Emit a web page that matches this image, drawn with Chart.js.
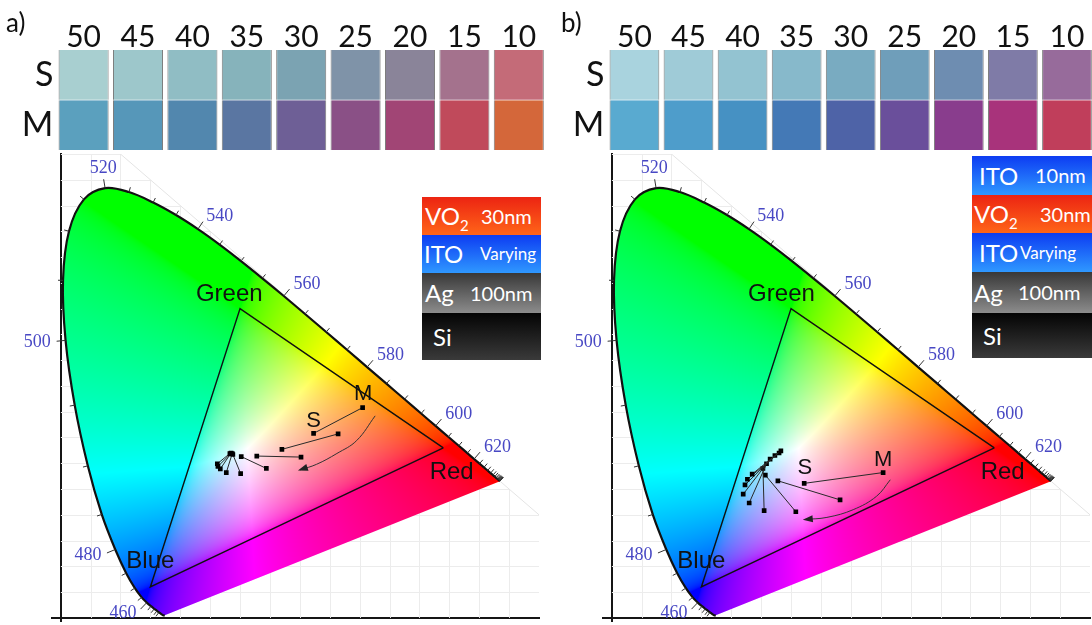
<!DOCTYPE html>
<html><head><meta charset="utf-8">
<script src="https://cdn.jsdelivr.net/npm/chart.js@4.4.1/dist/chart.umd.min.js"></script>
<style>
html,body{margin:0;padding:0;background:#fff;width:1092px;height:625px;overflow:hidden;position:relative;}
.abs{position:absolute;}
canvas{display:block;}
.plabel{position:absolute;font-family:Lato,'Open Sans',sans-serif;font-size:26px;color:#111;line-height:1;}
.row{position:relative;color:#fff;font-family:Lato,'Open Sans',sans-serif;white-space:nowrap;overflow:hidden;}
.row .n{position:absolute;font-size:24px;top:0;}
.row .n sub{font-size:15px;vertical-align:-6px;line-height:0;}
.row .t{position:absolute;font-size:20px;top:0;}
</style></head>
<body>
<div class="abs" style="left:0;top:0;width:546px;height:152px"><canvas id="swA" width="546" height="152"></canvas></div>
<div class="abs" style="left:551px;top:0;width:543px;height:152px"><canvas id="swB" width="543" height="152"></canvas></div>
<div class="abs" style="left:0;top:150px;width:546px;height:475px"><canvas id="cieA" width="546" height="475"></canvas></div>
<div class="abs" style="left:551px;top:150px;width:543px;height:475px"><canvas id="cieB" width="543" height="475"></canvas></div>
<div class="plabel" style="left:6px;top:9px">a)</div>
<div class="plabel" style="left:561px;top:9px">b)</div>
<div id="stackA" class="abs" style="left:422px;top:197px;width:119px"></div>
<div id="stackB" class="abs" style="left:972px;top:156px;width:124px"></div>
<script>
// ---------- data ----------
const thickness = ['50','45','40','35','30','25','20','15','10'];
const rowLabels = ['M','S'];
const swatchValue = [1,1,1,1,1,1,1,1,1];

const aSwatchS = ['#a8cfd0','#9dc7cb','#90bdc4','#86b3bb','#7ba3b2','#7f93a8','#8a8499','#a4728d','#c46b78'];
const aSwatchM = ['#5ba0be','#5697b9','#5287ae','#5a76a2','#6e5f96','#8a5086','#a14575','#c04a5b','#d4673a'];
const bSwatchS = ['#a9d3de','#9fcbd7','#93c3d1','#87b9cb','#79abc1','#6f9eba','#6e8db1','#7f7ba7','#976b9b'];
const bSwatchM = ['#59aad0','#4e9dcb','#4691c3','#4479b6','#4e63a7','#6a4f9b','#893d8d','#a8337b','#c03e5b'];

// chromaticity of S and M states, thickness 50 -> 10 nm
const aSx = [0.283,0.284,0.285,0.287,0.288,0.302,0.328,0.370,0.423];
const aSy = [0.319,0.318,0.320,0.319,0.317,0.313,0.314,0.327,0.358];
const aMx = [0.262,0.263,0.267,0.277,0.301,0.344,0.402,0.464,0.505];
const aMy = [0.299,0.294,0.289,0.282,0.280,0.290,0.312,0.357,0.408];
const bSx = [0.283,0.280,0.273,0.265,0.259,0.253,0.257,0.278,0.322];
const bSy = [0.324,0.320,0.315,0.308,0.299,0.290,0.277,0.266,0.261];
const bMx = [0.235,0.227,0.223,0.220,0.230,0.255,0.308,0.382,0.454];
const bMy = [0.279,0.269,0.258,0.240,0.223,0.208,0.206,0.229,0.282];

// direction arrows
const aArrowX = [0.526,0.495,0.462,0.428,0.400];
const aArrowY = [0.392,0.344,0.319,0.298,0.287];
const bArrowX = [0.466,0.443,0.404,0.360,0.323];
const bArrowY = [0.268,0.236,0.210,0.195,0.191];

// CIE 1931 spectral locus, 5 nm steps
const locusNm = [380,385,390,395,400,405,410,415,420,425,430,435,440,445,450,455,460,465,470,475,480,485,490,495,500,505,510,515,520,525,530,535,540,545,550,555,560,565,570,575,580,585,590,595,600,605,610,615,620,625,630,635,640,645,650,655,660,665,670,675,680,685,690,695,700];
const locusX = [0.1741,0.1740,0.1738,0.1736,0.1733,0.1730,0.1726,0.1721,0.1714,0.1703,0.1689,0.1669,0.1644,0.1611,0.1566,0.1510,0.1440,0.1355,0.1241,0.1096,0.0913,0.0687,0.0454,0.0235,0.0082,0.0039,0.0139,0.0389,0.0743,0.1142,0.1547,0.1929,0.2296,0.2658,0.3016,0.3373,0.3731,0.4087,0.4441,0.4788,0.5125,0.5448,0.5752,0.6029,0.6270,0.6482,0.6658,0.6801,0.6915,0.7006,0.7079,0.7140,0.7190,0.7230,0.7260,0.7283,0.7300,0.7311,0.7320,0.7327,0.7334,0.7340,0.7344,0.7346,0.7347];
const locusY = [0.0050,0.0050,0.0049,0.0049,0.0048,0.0048,0.0048,0.0048,0.0051,0.0058,0.0069,0.0086,0.0109,0.0138,0.0177,0.0227,0.0297,0.0399,0.0578,0.0868,0.1327,0.2007,0.2950,0.4127,0.5384,0.6548,0.7502,0.8120,0.8338,0.8262,0.8059,0.7816,0.7543,0.7243,0.6923,0.6589,0.6245,0.5896,0.5547,0.5202,0.4866,0.4544,0.4242,0.3965,0.3725,0.3514,0.3340,0.3197,0.3083,0.2993,0.2920,0.2859,0.2809,0.2770,0.2740,0.2717,0.2700,0.2689,0.2680,0.2673,0.2666,0.2660,0.2656,0.2654,0.2653];
const labeledNm = [460,480,500,520,540,560,580,600,620];

// sRGB primaries triangle (R, G, B, R)
const primX = [0.64,0.30,0.15,0.64];
const primY = [0.33,0.60,0.06,0.33];

const aMarks = [
  {text:'Green', x:0.282, y:0.630, size:24},
  {text:'Red',   x:0.654, y:0.284, size:24},
  {text:'Blue',  x:0.150, y:0.1125, size:24},
  {text:'S',     x:0.423, y:0.385, size:22},
  {text:'M',     x:0.506, y:0.437, size:22}
];
const bMarks = [
  {text:'Green', x:0.284, y:0.630, size:24},
  {text:'Red',   x:0.654, y:0.284, size:24},
  {text:'Blue',  x:0.150, y:0.1125, size:24},
  {text:'S',     x:0.323, y:0.293, size:22},
  {text:'M',     x:0.454, y:0.309, size:22}
];

const stackA = [
  {name:'VO<sub>2</sub>', thick:'30nm', kind:'vo2', h:38, nl:3, tl:59},
  {name:'ITO', thick:'Varying', kind:'ito', h:38, nl:2, tl:58},
  {name:'Ag', thick:'100nm', kind:'ag', h:40, nl:3, tl:48},
  {name:'Si', thick:'', kind:'si', h:47, nl:11, tl:0}
];
const stackB = [
  {name:'ITO', thick:'10nm', kind:'ito', h:39, nl:7, tl:63},
  {name:'VO<sub>2</sub>', thick:'30nm', kind:'vo2', h:38, nl:2, tl:68},
  {name:'ITO', thick:'Varying', kind:'ito', h:39, nl:7, tl:48},
  {name:'Ag', thick:'100nm', kind:'ag', h:41, nl:2, tl:46},
  {name:'Si', thick:'', kind:'si', h:45, nl:11, tl:0}
];
const layerBg = {
  vo2:'linear-gradient(#ec2412,#ff6519)',
  ito:'linear-gradient(#0d3cf2,#2f98ff)',
  ag:'linear-gradient(#383838,#8c8c8c)',
  si:'linear-gradient(#040404,#3a3a3a)'
};

// ---------- legend stacks ----------
function buildStack(id, rows){
  const el = document.getElementById(id);
  rows.forEach(r=>{
    const d = document.createElement('div');
    d.className='row';
    d.style.height = r.h+'px';
    d.style.lineHeight = r.h+'px';
    d.style.background = layerBg[r.kind];
    d.innerHTML = '<span class="n" style="left:'+r.nl+'px">'+r.name+'</span>'+
      (r.thick ? '<span class="t" style="left:'+r.tl+'px;'+(r.thick==='Varying'?'font-size:17px;':'')+'">'+r.thick+'</span>' : '');
    el.appendChild(d);
  });
}
buildStack('stackA', stackA);
buildStack('stackB', stackB);

// ---------- swatch charts ----------
const rowDivider = {
  id:'rowDivider',
  afterDatasetsDraw(chart){
    const {ctx, chartArea:a, scales:{y}} = chart;
    const yy = Math.round(y.getPixelForValue(1));
    ctx.save(); ctx.fillStyle='rgba(255,255,255,0.55)';
    ctx.fillRect(a.left, yy-0.5, a.width, 1.2); ctx.restore();
  }
};
function makeSwatch(id, sCols, mCols){
  new Chart(document.getElementById(id), {
    type:'bar',
    data:{labels:thickness, datasets:[
      {label:'M', data:swatchValue, backgroundColor:mCols, borderColor:'rgba(70,70,70,0.7)',
       borderWidth:{left:1,right:1,top:0,bottom:0}, borderSkipped:false, stack:'s', barPercentage:0.92, categoryPercentage:1},
      {label:'S', data:swatchValue, backgroundColor:sCols, borderColor:'rgba(70,70,70,0.7)',
       borderWidth:{left:1,right:1,top:0,bottom:0}, borderSkipped:false, stack:'s', barPercentage:0.92, categoryPercentage:1}
    ]},
    plugins:[rowDivider],
    options:{
      responsive:false, animation:false, events:[],
      layout:{padding:{left:0,right:0,top:0,bottom:2}},
      plugins:{legend:{display:false}, tooltip:{enabled:false}},
      scales:{
        x:{position:'top', stacked:true, grid:{display:false, drawTicks:false}, border:{display:false},
           ticks:{font:{family:'Lato', size:30}, color:'#111', padding:-5, maxRotation:0, autoSkip:false},
           afterFit:s=>{s.height=50; s.paddingLeft=0; s.paddingRight=0;}},
        y:{stacked:true, min:0, max:2, grid:{display:false, drawTicks:false}, border:{display:false},
           afterBuildTicks:s=>{s.ticks=[{value:0.5},{value:1.5}];},
           ticks:{font:{family:'Lato', size:34}, color:'#111', padding:3, callback:v=>rowLabels[Math.floor(v)]},
           afterFit:s=>{s.width=56.4; s.paddingTop=0; s.paddingBottom=0;}}
      }
    }
  });
}
makeSwatch('swA', aSwatchS, aSwatchM);
makeSwatch('swB', bSwatchS, bSwatchM);

// ---------- CIE chromaticity charts ----------
function gam(c){ return c<=0.0031308 ? 12.92*c : 1.055*Math.pow(c,1/2.4)-0.055; }
function ciePattern(context){
  const chart = context.chart;
  const area = chart.chartArea;
  if (!area || !chart.scales.x) return 'rgba(0,0,0,0)';
  if (chart.$ciePat) return chart.$ciePat;
  const xs = chart.scales.x, ys = chart.scales.y;
  const W = chart.width, H = chart.height;
  const off = document.createElement('canvas'); off.width=W; off.height=H;
  const octx = off.getContext('2d');
  const img = octx.createImageData(W,H);
  const d = img.data;
  for (let py=Math.max(0,Math.floor(area.top)); py<Math.min(H,Math.ceil(area.bottom)); py++){
    const yv = Math.max(ys.getValueForPixel(py+0.5), 0.001);
    for (let px=Math.max(0,Math.floor(area.left)); px<Math.min(W,Math.ceil(area.right)); px++){
      const xv = xs.getValueForPixel(px+0.5);
      const X = xv/yv, Y = 1, Z = (1-xv-yv)/yv;
      let r = 3.2406*X - 1.5372*Y - 0.4986*Z;
      let g = -0.9689*X + 1.8758*Y + 0.0415*Z;
      let b = 0.0557*X - 0.2040*Y + 1.0570*Z;
      r=Math.max(r,0); g=Math.max(g,0); b=Math.max(b,0);
      let m = Math.max(r,g,b) || 1;
      const s = (m - Math.min(r,g,b))/m;
      g *= 1 + 0.3*s;
      m = Math.max(r,g,b) || 1;
      const k = (py*W+px)*4;
      d[k]=Math.round(255*gam(r/m)); d[k+1]=Math.round(255*gam(g/m)); d[k+2]=Math.round(255*gam(b/m)); d[k+3]=255;
    }
  }
  octx.putImageData(img,0,0);
  chart.$ciePat = chart.ctx.createPattern(off,'no-repeat');
  return chart.$ciePat;
}

const cieGridPlugin = {
  id:'cieGrid',
  beforeDatasetsDraw(chart){
    const {ctx, chartArea:a, scales:{x:xs, y:ys}} = chart;
    const X = v=>xs.getPixelForValue(v), Y = v=>ys.getPixelForValue(v);
    ctx.save();
    ctx.beginPath(); ctx.rect(a.left,a.top,a.width,a.height); ctx.clip();
    ctx.beginPath(); ctx.moveTo(X(0),Y(0)); ctx.lineTo(X(1),Y(0)); ctx.lineTo(X(0),Y(1)); ctx.closePath(); ctx.clip();
    ctx.strokeStyle='#ececec'; ctx.lineWidth=1;
    for (let k=1;k<20;k++){
      const v=k*0.05;
      ctx.beginPath(); ctx.moveTo(Math.round(X(v))+0.5,Y(0)); ctx.lineTo(Math.round(X(v))+0.5,Y(1)); ctx.stroke();
      ctx.beginPath(); ctx.moveTo(X(0),Math.round(Y(v))+0.5); ctx.lineTo(X(1),Math.round(Y(v))+0.5); ctx.stroke();
    }
    ctx.restore();
    ctx.save();
    ctx.beginPath(); ctx.rect(a.left,a.top,a.width,a.height); ctx.clip();
    ctx.strokeStyle='#e4e4e4'; ctx.lineWidth=1;
    ctx.beginPath(); ctx.moveTo(X(0),Y(1)); ctx.lineTo(X(1),Y(0)); ctx.stroke();
    ctx.restore();
  }
};

const locusLabelPlugin = {
  id:'locusLabels',
  afterDatasetsDraw(chart){
    const {ctx, scales:{x:xs, y:ys}} = chart;
    const P = i=>[xs.getPixelForValue(locusX[i]), ys.getPixelForValue(locusY[i])];
    const wx = xs.getPixelForValue(0.3127), wy = ys.getPixelForValue(0.329);
    const n = locusNm.length;
    ctx.save();
    ctx.strokeStyle='#333'; ctx.lineWidth=1;
    ctx.font='18px "Liberation Serif", "DejaVu Serif", serif';
    ctx.fillStyle='#4848c4';
    for (let i=0;i<n;i++){
      const nm = locusNm[i]; if (nm<440) continue;
      const [px,py] = P(i);
      let a=i, b=i;
      const dist=(j)=>{const q=P(j); return Math.hypot(q[0]-px,q[1]-py);};
      while (a>0 && dist(a)<5) a--;
      while (b<n-1 && dist(b)<5) b++;
      const pa=P(a), pb=P(b);
      let tx=pb[0]-pa[0], ty=pb[1]-pa[1]; const L=Math.hypot(tx,ty)||1; tx/=L; ty/=L;
      let nx=ty, ny=-tx;
      if ((px-wx)*nx + (py-wy)*ny < 0){ nx=-nx; ny=-ny; }
      const major = labeledNm.includes(nm);
      const len = major ? 9 : 5;
      ctx.beginPath(); ctx.moveTo(px,py); ctx.lineTo(px+nx*len, py+ny*len); ctx.stroke();
      if (major){
        if (nx>0.35){ ctx.textAlign='left'; ctx.textBaseline='middle'; ctx.fillText(String(nm), px+nx*(len+6), py+ny*(len+6)); }
        else if (nx<-0.35){ ctx.textAlign='right'; ctx.textBaseline='middle'; ctx.fillText(String(nm), px+nx*(len+6), py+ny*(len+6)); }
        else { ctx.textAlign='center'; ctx.textBaseline='bottom'; ctx.fillText(String(nm), px+nx*(len+2), py+ny*(len+2)); }
      }
    }
    ctx.restore();
  }
};

const arrowHeadPlugin = {
  id:'arrowHead',
  afterDatasetsDraw(chart){
    const ctx = chart.ctx;
    chart.data.datasets.forEach((ds,idx)=>{
      if (ds.label!=='arrow') return;
      const pts = chart.getDatasetMeta(idx).data;
      const p = pts[pts.length-1];
      const q = (p.cp1x!==undefined) ? {x:p.cp1x,y:p.cp1y} : pts[pts.length-2];
      let dx=p.x-q.x, dy=p.y-q.y; const L=Math.hypot(dx,dy)||1; dx/=L; dy/=L;
      const len=8, hw=3.5;
      ctx.save(); ctx.fillStyle='#222';
      ctx.beginPath();
      ctx.moveTo(p.x+dx*2, p.y+dy*2);
      ctx.lineTo(p.x-dx*len-dy*hw, p.y-dy*len+dx*hw);
      ctx.lineTo(p.x-dx*len+dy*hw, p.y-dy*len-dx*hw);
      ctx.closePath(); ctx.fill(); ctx.restore();
    });
  }
};

const marksPlugin = {
  id:'marks',
  afterDatasetsDraw(chart, args, opts){
    const {ctx, scales:{x:xs, y:ys}} = chart;
    ctx.save(); ctx.fillStyle='#111'; ctx.textAlign='center'; ctx.textBaseline='middle';
    (opts.items||[]).forEach(m=>{
      ctx.font = m.size+'px "Liberation Sans", Arial, sans-serif';
      ctx.fillText(m.text, xs.getPixelForValue(m.x), ys.getPixelForValue(m.y)+1);
    });
    ctx.restore();
  }
};

function makeCie(id, Sx,Sy,Mx,My, arX,arY, marks, canvasW){
  const datasets = [];
  datasets.push({label:'locus', data:locusX.map((v,i)=>({x:v,y:locusY[i]})), showLine:true,
    borderColor:'#111', borderWidth:2.2, pointRadius:0, tension:0.35, fill:'shape', backgroundColor:ciePattern, order:10});
  datasets.push({label:'sRGB', data:primX.map((v,i)=>({x:v,y:primY[i]})), showLine:true,
    borderColor:'#111', borderWidth:1.4, pointRadius:0, tension:0, fill:false, order:5});
  thickness.forEach((t,i)=>{
    datasets.push({label:t+' nm', data:[{x:Sx[i],y:Sy[i]},{x:Mx[i],y:My[i]}], showLine:true,
      borderColor:'#2a2a2a', borderWidth:1, pointStyle:'rect', pointRadius:3.3,
      pointBackgroundColor:'#000', pointBorderColor:'#000', pointBorderWidth:0, fill:false, order:1});
  });
  datasets.push({label:'arrow', data:arX.map((v,i)=>({x:v,y:arY[i]})), showLine:true,
    borderColor:'#333', borderWidth:1, pointRadius:0, tension:0.4, fill:false, order:2});
  new Chart(document.getElementById(id), {
    type:'scatter',
    data:{datasets},
    plugins:[cieGridPlugin, locusLabelPlugin, arrowHeadPlugin, marksPlugin],
    options:{
      responsive:false, animation:false, events:[],
      layout:{padding:{left:51.7, right:canvasW-539, top:0, bottom:0}},
      plugins:{legend:{display:false}, tooltip:{enabled:false}, filler:{propagate:false}, marks:{items:marks}},
      scales:{
        x:{type:'linear', min:-0.015, max:0.8, position:{y:0}, z:1,
           grid:{display:false, drawTicks:false}, ticks:{display:false}, border:{display:true, color:'#151515', width:2}},
        y:{type:'linear', min:-0.006, max:0.9, position:{x:0}, z:1,
           grid:{display:false, drawTicks:false}, ticks:{display:false}, border:{display:true, color:'#151515', width:2}}
      }
    }
  });
}
makeCie('cieA', aSx,aSy,aMx,aMy, aArrowX,aArrowY, aMarks, 546);
makeCie('cieB', bSx,bSy,bMx,bMy, bArrowX,bArrowY, bMarks, 543);
</script>
</body></html>
